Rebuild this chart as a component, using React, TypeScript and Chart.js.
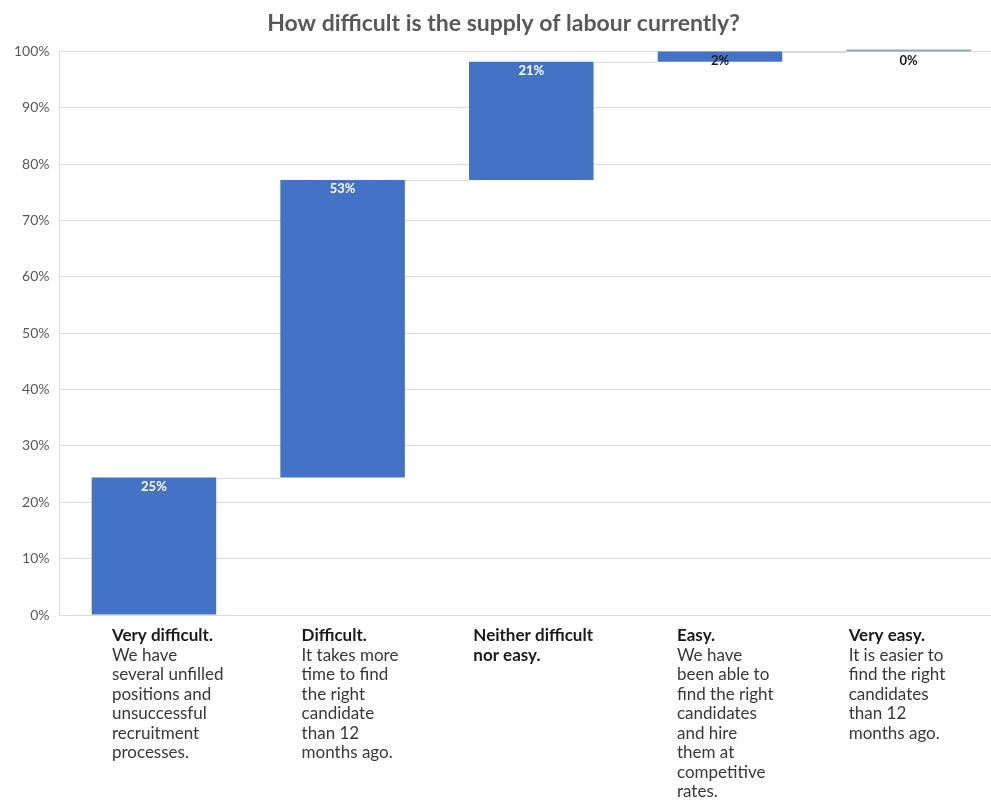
import React, { useEffect, useRef } from "react";
import { Chart, registerables } from "chart.js";

Chart.register(...registerables);

const categoryTitles: string[][] = [
  ["Very difficult."],
  ["Difficult."],
  ["Neither difficult", "nor easy."],
  ["Easy."],
  ["Very easy."],
];
const categoryDescriptions: string[][] = [
  ["We have", "several unfilled", "positions and", "unsuccessful", "recruitment", "processes."],
  ["It takes more", "time to find", "the right", "candidate", "than 12", "months ago."],
  [],
  ["We have", "been able to", "find the right", "candidates", "and hire", "them at", "competitive", "rates."],
  ["It is easier to", "find the right", "candidates", "than 12", "months ago."],
];
const stepValues: number[] = [24.4, 52.8, 21.0, 1.8, 0];
const valueLabels: string[] = ["25%", "53%", "21%", "2%", "0%"];
const yTicks: number[] = [0, 10, 20, 30, 40, 50, 60, 70, 80, 90, 100];

const FONT = "Lato, 'Open Sans', sans-serif";
const CANVAS_W = 1008;

export default function App() {
  const ref = useRef<HTMLCanvasElement | null>(null);

  useEffect(() => {
    if (!ref.current) return;
    let acc = 0;
    const floating = stepValues.map((v) => {
      const r: [number, number] = [acc, acc + v];
      acc += v;
      return r;
    });

    const overlay = {
      id: "overlay",
      afterDatasetsDraw(chart: any) {
        const ctx = chart.ctx;
        const meta = chart.getDatasetMeta(0);
        const y = chart.scales.y;
        const area = chart.chartArea;
        ctx.save();
        // connectors
        ctx.strokeStyle = "#d9d9d9";
        ctx.lineWidth = 1;
        for (let i = 0; i < floating.length - 1; i++) {
          const a = meta.data[i];
          const b = meta.data[i + 1];
          const yy = Math.round(y.getPixelForValue(floating[i][1])) + 0.5;
          ctx.beginPath();
          ctx.moveTo(a.x + a.width / 2, yy);
          ctx.lineTo(b.x - b.width / 2, yy);
          ctx.stroke();
        }
        // value labels
        ctx.font = `bold 13px ${FONT}`;
        ctx.textAlign = "center";
        ctx.textBaseline = "middle";
        floating.forEach((r, i) => {
          const el = meta.data[i];
          const top = y.getPixelForValue(Math.max(r[0], r[1]));
          ctx.fillStyle = i < 3 ? "#ffffff" : "#1a1a1a";
          ctx.fillText(valueLabels[i], el.x, top + 9);
        });
        // category labels
        const offsets = [-42, -41, -58, -43, -60];
        ctx.textAlign = "left";
        categoryTitles.forEach((lines, i) => {
          const el = meta.data[i];
          const left = el.x + offsets[i];
          let ly = area.bottom + 21;
          ctx.font = `bold 17px ${FONT}`;
          ctx.fillStyle = "#1a1a1a";
          lines.forEach((t) => {
            ctx.fillText(t, left, ly);
            ly += 19.5;
          });
          ctx.font = `17px ${FONT}`;
          ctx.fillStyle = "#383838";
          categoryDescriptions[i].forEach((t) => {
            ctx.fillText(t, left, ly);
            ly += 19.5;
          });
        });
        ctx.restore();
      },
    };

    const chart = new Chart(ref.current, {
      type: "bar",
      data: {
        labels: categoryTitles.map((l) => l.join(" ")),
        datasets: [
          {
            data: floating as any,
            backgroundColor: ["#4472c4", "#4472c4", "#4472c4", "#4472c4", "#8fa7c7"],
            borderWidth: 0,
            borderSkipped: false,
            categoryPercentage: 1,
            barPercentage: 0.66,
            minBarLength: 2,
            clip: false,
          } as any,
        ],
      },
      options: {
        responsive: false,
        animation: false,
        layout: { padding: { left: 4, right: 5, top: 0, bottom: 177 } },
        plugins: {
          legend: { display: false },
          tooltip: { enabled: false },
          title: {
            display: true,
            text: "How difficult is the supply of labour currently?",
            color: "#595959",
            font: { family: FONT, size: 23, weight: "bold" },
            padding: { top: 10, bottom: 14 },
          },
        },
        scales: {
          x: {
            ticks: { display: false },
            grid: { display: false },
            border: { display: true, color: "#d9d9d9" },
          },
          y: {
            min: 0,
            max: 100,
            afterBuildTicks: (axis: any) => {
              axis.ticks = yTicks.map((v) => ({ value: v }));
            },
            ticks: {
              callback: (v: any) => `${v}%`,
              color: "#595959",
              font: { family: FONT, size: 14 },
              padding: 10,
            },
            grid: { color: "#d9d9d9", drawTicks: false },
            border: { display: true, color: "#d9d9d9" },
          },
        },
      },
      plugins: [overlay],
    });
    return () => chart.destroy();
  }, []);

  return (
    <div style={{ position: "absolute", left: 0, top: 0, width: 991, height: 800, overflow: "hidden", background: "#fff" }}>
      <canvas ref={ref} width={CANVAS_W} height={800} style={{ width: CANVAS_W, height: 800, display: "block" }} />
    </div>
  );
}
